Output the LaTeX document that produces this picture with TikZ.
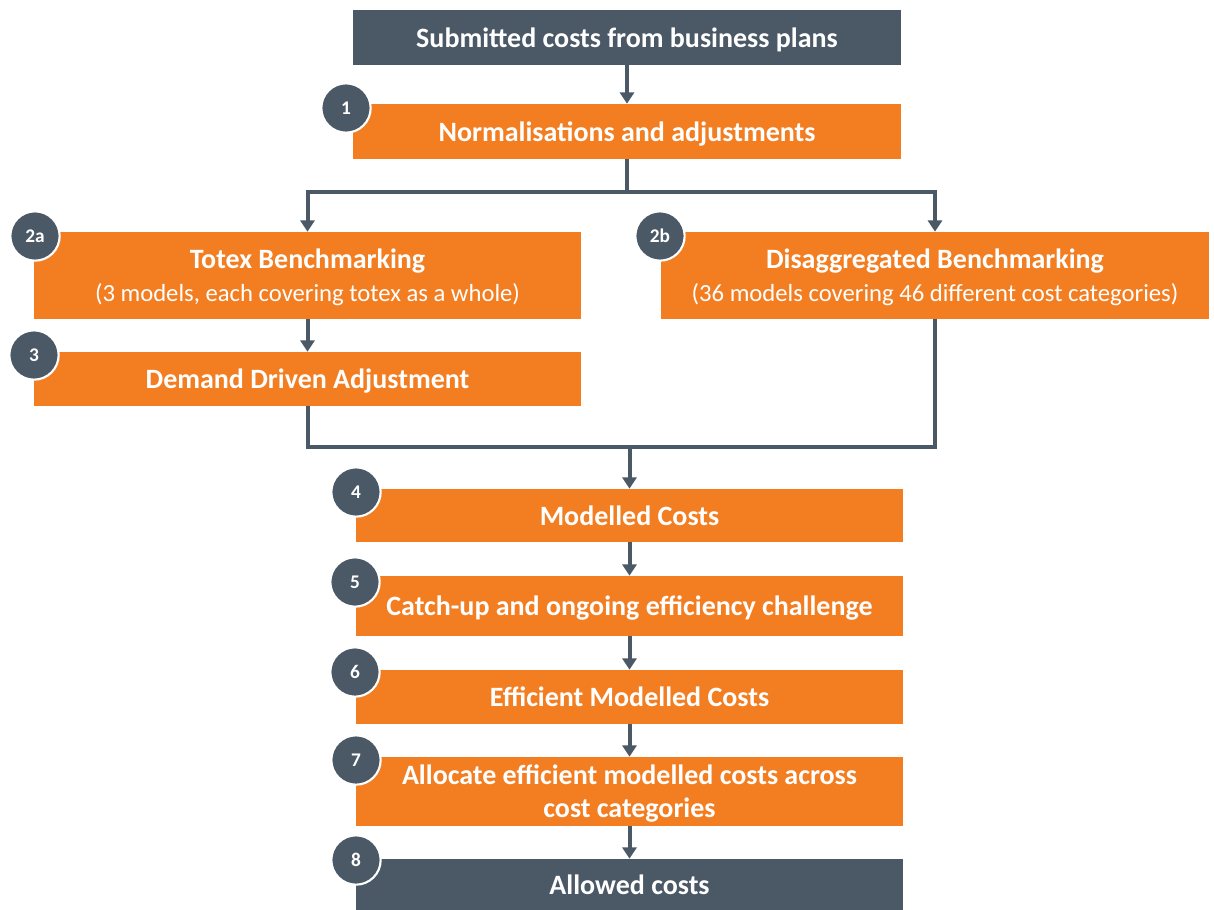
\documentclass[tikz,border=0pt]{standalone}
\usepackage{fontspec}
\setmainfont{Carlito}
\usetikzlibrary{arrows.meta}
\definecolor{slate}{HTML}{4B5967}
\definecolor{amber}{HTML}{F37E22}
\begin{document}
\begin{tikzpicture}[x=0.75pt,y=-0.75pt,
  box/.style={rectangle, fill=amber, text=white, align=center, inner sep=0pt,
    text depth=0pt, font=\fontsize{21}{25}\selectfont\bfseries},
  darkbox/.style={box, fill=slate},
  badge/.style={circle, fill=slate, draw=white, line width=1.6pt, text=white,
    minimum size=37pt, inner sep=0pt, font=\fontsize{14.5}{16}\selectfont\bfseries},
  link/.style={draw=slate, line width=3pt},
  arr/.style={link, -{Triangle[width=10.5pt,length=8.5pt]}}]
\useasboundingbox (0,0) rectangle (1214,910);

% step boxes
\node[darkbox, minimum width=411pt, minimum height=41.25pt] (top) at (627,37.5) {Submitted costs from business plans};
\node[box, minimum width=411pt, minimum height=41.25pt] (n1) at (627,131.5) {Normalisations and adjustments};
\node[box, minimum width=410.25pt, minimum height=65.25pt] (n2a) at (307.5,275.5)
  {Totex Benchmarking\\[0pt]{\fontsize{18.5}{22}\selectfont\mdseries (3 models, each covering totex as a whole)}};
\node[box, minimum width=411pt, minimum height=65.25pt] (n2b) at (935,275.5)
  {Disaggregated Benchmarking\\[0pt]{\fontsize{18.5}{22}\selectfont\mdseries (36 models covering 46 different cost categories)}};
\node[box, minimum width=410.25pt, minimum height=40.5pt] (n3) at (307.5,379) {Demand Driven Adjustment};
\node[box, minimum width=410.25pt, minimum height=39.75pt] (n4) at (629.5,515.5) {Modelled Costs};
\node[box, minimum width=410.25pt, minimum height=45pt] (n5) at (629.5,606) {Catch-up and ongoing efficiency challenge};
\node[box, minimum width=410.25pt, minimum height=40.5pt] (n6) at (629.5,697) {Efficient Modelled Costs};
\node[box, minimum width=410.25pt, minimum height=51.75pt, font=\fontsize{21}{24.75}\selectfont\bfseries] (n7) at (629.5,791.5)
  {Allocate efficient modelled costs across\\cost categories};
\node[darkbox, minimum width=410.25pt, minimum height=38.25pt] (n8) at (629.5,884.5) {Allowed costs};

% junctions
\coordinate (j1) at (627,192);
\coordinate (j2) at (629.5,447);

% connectors
\draw[arr] (top) -- (n1);
\draw[link] (n1.south) -- (j1);
\draw[arr] (j1) -| (n2a.north);
\draw[arr] (j1) -| (n2b.north);
\draw[arr] (n2a) -- (n3);
\draw[link] (n3.south) |- (j2) -| (n2b.south);
\draw[arr] (j2) -- (n4.north);
\draw[arr] (n4) -- (n5);
\draw[arr] (n5) -- (n6);
\draw[arr] (n6) -- (n7);
\draw[arr] (n7) -- (n8);

% step numbers
\node[badge] (b1) at (346,108) {1};
\node[badge] (b2a) at (35,236) {2a};
\node[badge] (b2b) at (660,236) {2b};
\node[badge] (b3) at (34,355) {3};
\node[badge] (b4) at (356,492) {4};
\node[badge] (b5) at (355,582) {5};
\node[badge] (b6) at (355,672) {6};
\node[badge] (b7) at (356,760) {7};
\node[badge] (b8) at (356,860) {8};
\end{tikzpicture}
\end{document}
